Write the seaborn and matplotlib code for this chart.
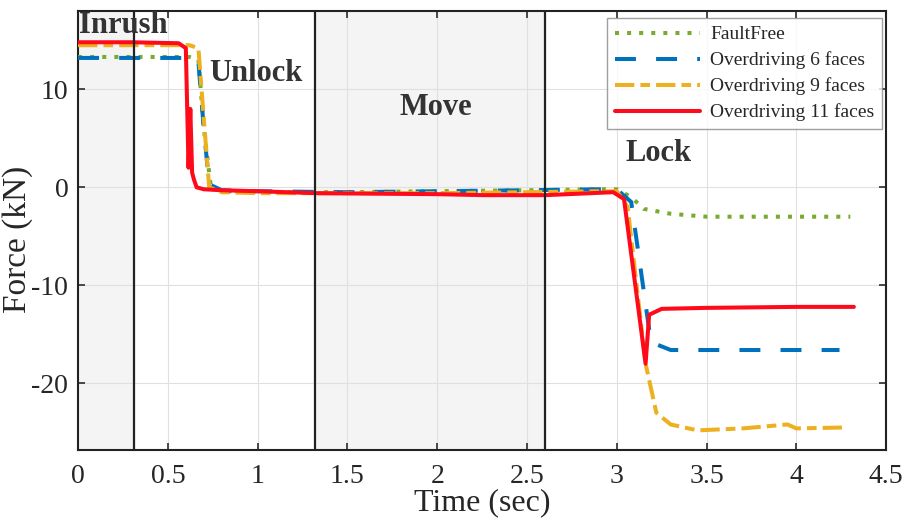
import matplotlib
matplotlib.use("Agg")
import matplotlib.pyplot as plt
import seaborn as sns
import pandas as pd

sns.set_theme(style="white")
plt.rcParams['font.family'] = ['Liberation Serif', 'DejaVu Serif']
plt.rcParams['axes.unicode_minus'] = False

# ---- data ----
t_fault = [0, 0.3, 0.62, 0.67, 0.70, 0.74, 0.8, 1.0, 1.5, 2.0, 2.5, 2.9, 3.0, 3.08, 3.15, 3.3, 3.5, 4.0, 4.30]
y_fault = [13.3, 13.3, 13.3, 13.0, 6.0, 0.0, -0.4, -0.5, -0.5, -0.4, -0.3, -0.2, -0.2, -1.0, -2.2, -2.7, -3.0, -3.0, -3.0]

t_six = [0, 0.3, 0.62, 0.67, 0.70, 0.73, 0.8, 1.0, 1.5, 2.0, 2.5, 2.9, 3.0, 3.08, 3.19, 3.3, 3.6, 4.0, 4.24]
y_six = [13.2, 13.2, 13.2, 12.8, 6.0, 0.3, -0.3, -0.4, -0.5, -0.4, -0.3, -0.2, -0.2, -1.5, -15.8, -16.6, -16.6, -16.6, -16.6]

t_nine = [0, 0.3, 0.62, 0.67, 0.70, 0.73, 0.8, 1.0, 1.5, 2.0, 2.5, 2.9, 3.0, 3.06, 3.16, 3.22, 3.3, 3.45, 3.7, 3.95, 4.0, 4.28]
y_nine = [14.5, 14.5, 14.5, 14.2, 7.0, 0.0, -0.5, -0.6, -0.6, -0.6, -0.5, -0.4, -0.4, -2.0, -18.0, -23.0, -24.2, -24.8, -24.6, -24.2, -24.6, -24.5]

t_eleven = [0, 0.3, 0.56, 0.60, 0.615, 0.625, 0.635, 0.645, 0.66, 0.70, 0.8, 1.0, 1.33, 2.0, 2.26, 2.6, 2.98, 3.04, 3.16, 3.18, 3.25, 3.5, 4.0, 4.32]
y_eleven = [14.8, 14.8, 14.7, 14.2, 2.0, 8.0, 1.5, 0.8, 0.0, -0.2, -0.3, -0.4, -0.6, -0.7, -0.8, -0.8, -0.5, -1.2, -18.0, -13.0, -12.4, -12.3, -12.2, -12.2]

series_names = ["FaultFree", "Overdriving 6 faces", "Overdriving 9 faces", "Overdriving 11 faces"]
phase_labels = ["Inrush", "Unlock", "Move", "Lock"]
phase_bounds = [0.31, 1.32, 2.60]
x_ticks = [0, 0.5, 1, 1.5, 2, 2.5, 3, 3.5, 4, 4.5]
x_tick_labels = ["0", "0.5", "1", "1.5", "2", "2.5", "3", "3.5", "4", "4.5"]
y_ticks = [-20, -10, 0, 10]

frames = []
for name, t, y in zip(series_names, [t_fault, t_six, t_nine, t_eleven],
                      [y_fault, y_six, y_nine, y_eleven]):
    frames.append(pd.DataFrame({"Time": t, "Force": y, "Series": name}))
df = pd.concat(frames, ignore_index=True)

colors = {"FaultFree": "#77AC30", "Overdriving 6 faces": "#0072BD",
          "Overdriving 9 faces": "#EDB120", "Overdriving 11 faces": "#FF0A1A"}
styles = {"FaultFree": (0, (1.0, 2.0)), "Overdriving 6 faces": (0, (5.2, 5.0)),
          "Overdriving 9 faces": (0, (4.8, 1.5, 2.4, 1.5)), "Overdriving 11 faces": "-"}

fig = plt.figure(figsize=(9.08, 5.19), dpi=100)
ax = fig.add_axes([0.086, 0.133, 0.890, 0.846])

# shaded phases
ax.axvspan(0, phase_bounds[0], color="#F4F4F4", zorder=0)
ax.axvspan(phase_bounds[1], phase_bounds[2], color="#F4F4F4", zorder=0)

for name in series_names:
    sub = df[df["Series"] == name]
    sns.lineplot(data=sub, x="Time", y="Force", ax=ax, color=colors[name],
                 linewidth=2.9, sort=False, estimator=None, label=name,
                 linestyle=styles[name], zorder=3 if name != "Overdriving 11 faces" else 4)

for b in phase_bounds:
    ax.axvline(b, color="#222222", linewidth=1.6, zorder=5)

ax.set_xlim(0, 4.5)
ax.set_ylim(-26.8, 18.0)
ax.set_xticks(x_ticks)
ax.set_xticklabels(x_tick_labels)
ax.set_yticks(y_ticks)
ax.grid(True, color="#E0E0E0", linewidth=0.8)
ax.tick_params(axis="both", direction="in", labelsize=20, length=5, color="#333333",
               top=True, right=True, bottom=True, left=True)
ax.tick_params(axis="x", pad=10)
ax.tick_params(axis="y", pad=7)
for sp in ax.spines.values():
    sp.set_color("#222222")
    sp.set_linewidth(1.5)

ax.set_xlabel("Time (sec)", fontsize=23)
ax.set_ylabel("Force (kN)", fontsize=24)
ax.xaxis.set_label_coords(0.5, -0.086)
ax.yaxis.set_label_coords(-0.056, 0.48)

txt_kw = dict(fontsize=22, fontweight="bold", color="#333333", zorder=6)
ax.text(0.005, 16.5, phase_labels[0], va="center", ha="left", **txt_kw)
ax.text(0.73, 11.6, phase_labels[1], va="center", ha="left", **txt_kw)
ax.text(1.79, 8.1, phase_labels[2], va="center", ha="left", **txt_kw)
ax.text(3.05, 3.5, phase_labels[3], va="center", ha="left", **txt_kw)

leg = ax.legend(loc="upper right", fontsize=14, frameon=True, fancybox=False,
                edgecolor="#888888", handlelength=4.4, borderpad=0.4, borderaxespad=0,
                labelspacing=0.42, handletextpad=0.5, bbox_to_anchor=(0.995, 0.984))
leg.get_frame().set_linewidth(1.0)

fig.savefig("out.png", dpi=100)
